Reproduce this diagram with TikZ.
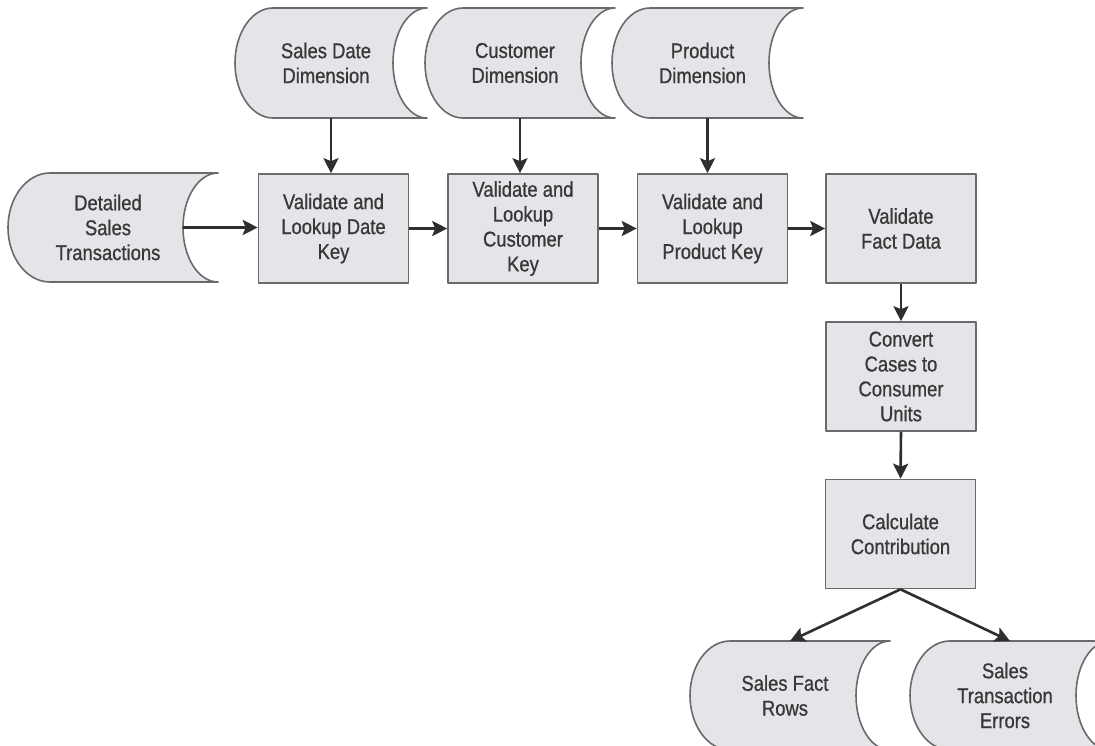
\documentclass[tikz,border=0pt]{standalone}
\usepackage{fontspec}
\setmainfont{Liberation Sans}[FakeStretch=0.86,FakeBold=0.8]
\usetikzlibrary{arrows.meta}
\definecolor{shapefill}{HTML}{E3E5E8}
\definecolor{shapeline}{HTML}{6A6A6A}
\definecolor{txtcol}{HTML}{383838}
\definecolor{arrcol}{HTML}{2E2E2E}
\tikzset{
  x=1bp, y=1bp,
  shapestyle/.style={fill=shapefill, draw=shapeline, line width=1.6bp, line join=round},
  txt/.style={text=txtcol, font=\fontsize{21.5}{25}\selectfont, align=center, inner sep=0pt},
  procbox/.style={shapestyle, txt, minimum width=150bp, minimum height=109bp},
  flow/.style={draw=arrcol, line width=2.6bp, -{Stealth[length=15bp,width=15bp,inset=3bp]}}
}
% #1 name, #2 L, #3 T, #4 R, #5 B, #6 left arc width, #7 right concave depth, #8 text
\newcommand\storeshape[8]{%
  \pgfmathsetmacro\hh{(#5-#3)/2}%
  \pgfmathsetmacro\lrad{#6}%
  \pgfmathsetmacro\rrad{#7}%
  \path[shapestyle] (#2+#6,-#3) -- (#4,-#3)
     arc[start angle=90, end angle=270, x radius=\rrad bp, y radius=\hh bp]
     -- (#2+#6,-#5)
     arc[start angle=270, end angle=90, x radius=\lrad bp, y radius=\hh bp]
     -- cycle;
  \coordinate (#1-top) at ({(#2+#4)/2},-#3);
  \coordinate (#1-bot) at ({(#2+#4)/2},-#5);
  \coordinate (#1-in) at (#4-#7,{-(#3+#5)/2});
  \node[txt] (#1) at ({(#2+#4)/2-5},{-(#3+#5)/2}) {#8};
}
\begin{document}
\begin{tikzpicture}
\useasboundingbox (0,0) rectangle (1095,-746);
\clip (0,0) rectangle (1095,-746);
\fill[white] (0,0) rectangle (1095,-746);

% data stores
\storeshape{sdd}{235}{8}{427}{118}{38}{34}{Sales Date\\Dimension}
\storeshape{cdim}{425}{8}{615}{118}{38}{34}{Customer\\Dimension}
\storeshape{pdim}{612}{8}{803}{118}{38}{34}{Product\\Dimension}
\storeshape{dst}{8}{173}{218}{282}{42}{35}{Detailed\\Sales\\Transactions}
\storeshape{sfr}{690}{641}{890}{750}{40}{34}{Sales Fact\\Rows}
\storeshape{ste}{910}{641}{1110}{750}{40}{34}{Sales\\Transaction\\Errors}

% process boxes
\node[procbox] (vdk) at (333.5,-228.5) {Validate and\\Lookup Date\\Key};
\node[procbox] (vck) at (523,-228.5) {Validate and\\Lookup\\Customer\\Key};
\node[procbox] (vpk) at (712.5,-228.5) {Validate and\\Lookup\\Product Key};
\node[procbox] (vfd) at (901,-228.5) {Validate\\Fact Data};
\node[procbox] (ccu) at (901,-376.5) {Convert\\Cases to\\Consumer\\Units};
\node[procbox] (cc) at (900.5,-534) {Calculate\\Contribution};

% connectors
\draw[flow] (sdd-bot) -- (sdd-bot |- vdk.north);
\draw[flow] (cdim-bot) -- (cdim-bot |- vck.north);
\draw[flow] (pdim-bot) -- (pdim-bot |- vpk.north);
\draw[flow] (dst-in) -- (dst-in -| vdk.west);
\draw[flow] (vdk.east) -- (vck.west);
\draw[flow] (vck.east) -- (vpk.west);
\draw[flow] (vpk.east) -- (vfd.west);
\draw[flow] (vfd.south) -- (ccu.north);
\draw[flow] (ccu.south) -- (cc.north);
\draw[flow] (cc.south) -- (sfr-top);
\draw[flow] (cc.south) -- (ste-top);
\end{tikzpicture}
\end{document}
